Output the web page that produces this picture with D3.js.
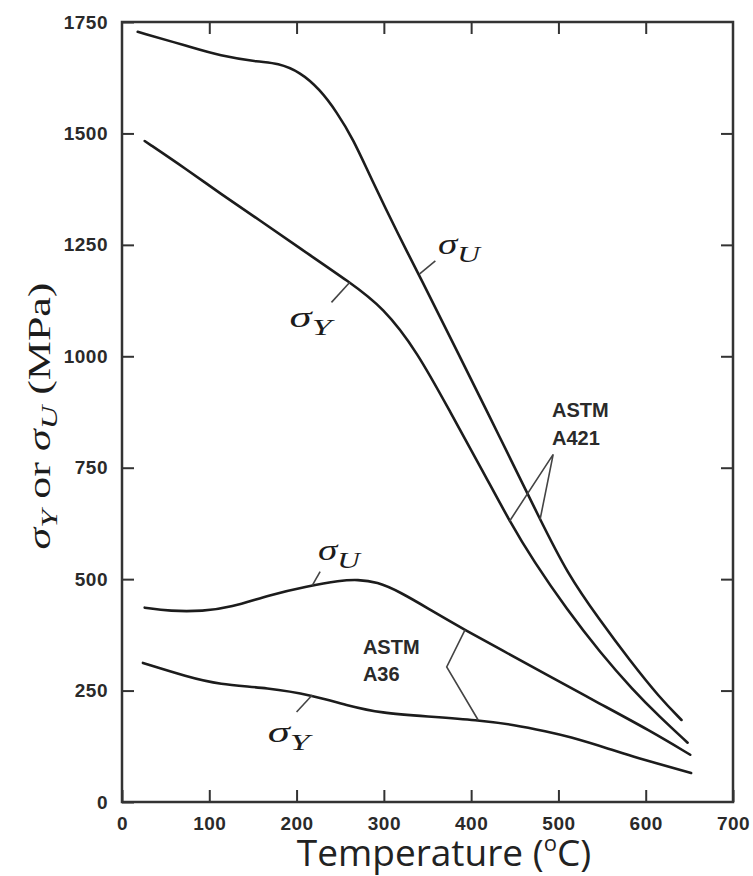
<!DOCTYPE html>
<html><head><meta charset="utf-8">
<script src="https://cdn.jsdelivr.net/npm/d3@7"></script>
<style>body{margin:0;background:#fff}</style>
</head><body>
<svg id="c" width="753" height="876"></svg>
<script>
// ---- data ----
const xTicks = [0,100,200,300,400,500,600,700];
const yTicks = [0,250,500,750,1000,1250,1500,1750];

const a421UltTemp   = [18,75,112,158,178,204,227,246,265,284,318,341,384,433,479,510,547,582,616,641];
const a421UltStress = [1728,1696,1674,1660,1658,1638,1598,1548,1487,1405,1267,1180,1011,818,634,513,409,317,234,184];

const a421YldTemp   = [26,75,112,158,204,261,299,338,376,414,444,471,510,548,585,616,648];
const a421YldStress = [1483,1418,1366,1305,1242,1166,1110,1011,875,740,630,542,431,335,252,191,133];

const a36UltTemp   = [26,55,93,124,170,212,250,270,292,318,356,393,433,487,547,605,651];
const a36UltStress = [436,428,428,436,465,484,497,499,494,472,428,386,343,285,221,160,106];

const a36YldTemp   = [24,75,110,168,217,261,296,350,407,450,487,510,562,585,652];
const a36YldStress = [312,281,264,256,240,215,200,192,184,173,158,148,117,102,65];

const series = [
  {t:a421UltTemp, s:a421UltStress},
  {t:a421YldTemp, s:a421YldStress},
  {t:a36UltTemp,  s:a36UltStress},
  {t:a36YldTemp,  s:a36YldStress}
];

// annotation leader lines (data units)
const leaders = [
  [[341,1185],[359,1214]],
  [[261,1166],[240,1121]],
  [[444,630],[494,780],[479,634]],
  [[393,386],[372,303],[408,184]],
  [[218,486],[227,517]],
  [[218,240],[200,202]]
];
// sigma labels: [temp, stress, subscript]
const sigmaLabels = [
  [362,1229,"U"],
  [192,1065,"Y"],
  [224.5,544,"U"],
  [167,135,"Y"]
];
const astmLabels = [
  [492.6,863,"ASTM"],[492.6,802,"A421"],
  [276,332,"ASTM"],[276,272,"A36"]
];

// ---- chart ----
const W=753,H=876, m={l:122,t:22,r:20,b:74};
const svg = d3.select("#c");
const x = d3.scaleLinear().domain([0,700]).range([m.l, W-m.r]);
const y = d3.scaleLinear().domain([0,1750]).range([H-m.b, m.t]);

const tickFont = g => {
  g.select(".domain").remove();
  g.selectAll(".tick line").attr("stroke","#333").attr("stroke-width",2);
  g.selectAll(".tick text").attr("fill","#2a2a2a")
    .style("font-family","Liberation Sans, Arial, sans-serif")
    .style("font-size","19px").style("font-weight","bold").style("letter-spacing","0.5px");
};
const fmt = d3.format("d");

svg.append("g").attr("transform",`translate(0,${y(0)})`)
  .call(d3.axisBottom(x).tickValues(xTicks).tickFormat(fmt).tickSizeInner(-12).tickSizeOuter(0).tickPadding(15)).call(tickFont);
svg.append("g").attr("transform",`translate(0,${y(1750)})`)
  .call(d3.axisTop(x).tickValues(xTicks.slice(1,-1)).tickSizeInner(-12).tickSizeOuter(0).tickFormat("")).call(tickFont);
svg.append("g").attr("transform",`translate(${x(0)},0)`)
  .call(d3.axisLeft(y).tickValues(yTicks).tickFormat(fmt).tickSizeInner(-12).tickSizeOuter(0).tickPadding(14)).call(tickFont);
svg.append("g").attr("transform",`translate(${x(700)},0)`)
  .call(d3.axisRight(y).tickValues(yTicks.slice(1,-1)).tickSizeInner(-12).tickSizeOuter(0).tickFormat("")).call(tickFont);

svg.append("rect").attr("x",x(0)).attr("y",y(1750))
  .attr("width",x(700)-x(0)).attr("height",y(0)-y(1750))
  .attr("fill","none").attr("stroke","#333").attr("stroke-width",2.5);

const line = d3.line().x(d=>x(d[0])).y(d=>y(d[1])).curve(d3.curveBasis);
series.forEach(sr=>{
  svg.append("path").attr("d", line(sr.t.map((t,i)=>[t,sr.s[i]])))
    .attr("fill","none").attr("stroke","#1c1c1c").attr("stroke-width",2.6)
    .attr("stroke-linecap","round");
});

const straight = d3.line().x(d=>x(d[0])).y(d=>y(d[1]));
leaders.forEach(l=>{
  svg.append("path").attr("d",straight(l)).attr("fill","none")
    .attr("stroke","#444").attr("stroke-width",1.6);
});

sigmaLabels.forEach(([t,s,sub])=>{
  const tx = svg.append("text").attr("x",x(t)).attr("y",y(s))
    .attr("fill","#1c1c1c").style("font-family","Liberation Serif, Times New Roman, serif")
    .style("font-style","italic").style("font-size","30px")
    .attr("textLength",42).attr("lengthAdjust","spacingAndGlyphs");
  tx.append("tspan").text("σ");
  tx.append("tspan").attr("dy",8).style("font-size","24px").text(sub);
});

astmLabels.forEach(([t,s,txt])=>{
  svg.append("text").attr("x",x(t)).attr("y",y(s)).attr("fill","#2a2a2a")
    .style("font-family","Liberation Sans, Arial, sans-serif")
    .style("font-size","20px").style("font-weight","bold").text(txt);
});

// axis titles
const xt = svg.append("text").attr("x",444).attr("y",866).attr("text-anchor","middle")
  .attr("fill","#222").style("font-family","Open Sans, sans-serif").style("font-size","37px");
xt.append("tspan").text("Temperature (");
xt.append("tspan").attr("dy",-15).style("font-size","22px").text("o");
xt.append("tspan").attr("dy",15).text("C)");

const yt = svg.append("text").attr("transform","translate(50,416) rotate(-90)")
  .attr("text-anchor","middle").attr("fill","#1c1c1c")
  .style("font-family","Liberation Serif, Times New Roman, serif").style("font-size","31px")
  .attr("textLength",267).attr("lengthAdjust","spacingAndGlyphs");
yt.append("tspan").style("font-style","italic").text("σ");
yt.append("tspan").style("font-style","italic").style("font-size","23px").attr("dy",7).text("Y");
yt.append("tspan").attr("dy",-7).text(" or ");
yt.append("tspan").style("font-style","italic").text("σ");
yt.append("tspan").style("font-style","italic").style("font-size","23px").attr("dy",7).text("U");
yt.append("tspan").attr("dy",-7).text(" (MPa)");
</script>
</body></html>
